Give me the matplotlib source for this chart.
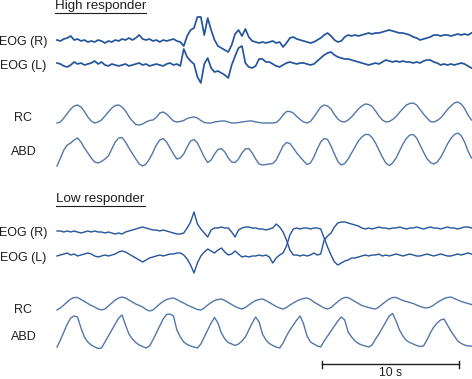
"""
EOG and respiratory traces (RC, ABD) for a high and a low responder.
Values read off the reference trace plot; amplitudes in arbitrary
units (positive = up), one sample every 0.25 s.
"""

import matplotlib.pyplot as plt
import numpy as np
from matplotlib.lines import Line2D

plt.rcParams['font.family'] = ['Liberation Sans', 'DejaVu Sans']

SAMPLE_DT = 0.25
SCALE_BAR_S = 10

# ---- high responder -------------------------------------------------
hi_eog_r = [
    0, -1, 1, 2, 4, 0, 1, -1, 0, -2, -1, -2, 0, -1, -3, -1, -2, 0, -1, 1,
    0, 2, 0, 2, 5, 1, 0, 1, -1, 0, -2, 0, -1, 0, 1, -1, -2,
    -6, 4, 10, 12, 23, 23, 5, 22, 10, 0,
    -6, -8, -10, -12, -5, 6, 10, 4, 11, 3,
    -1, -2, -3, -2, -3, -2, -1, -3, -2, -7,
    -3, 2, 3, 1, 0, -1, -2, -3, -2, 0,
    2, 5, 7, 4, 0, -2, -1, 3, 5, 4,
    5, 4, 5, 6, 7, 6, 7, 7, 8, 9,
    10, 9, 8, 7, 7, 6, 5, 3, 2, 0,
    1, 2, 3, 5, 5, 4, 5, 5, 4, 5,
    6, 5, 6, 5, 7,
]
hi_eog_l = [
    2, 1, -1, -2, 0, 3, 1, 2, 0, 1, 2, 4, 1, 3, 0, -1, 1, 0, -1, 0,
    1, -1, 0, 1, 2, 0, 1, -1, 0, 1, 0, -1, 1, 2, 0, 1, -1,
    16, 8, 4, 1, -12, -18, 1, 7, -3, -7,
    -6, -8, -10, -13, 0, 9, 17, 19, 2, -2,
    -3, -1, 6, 6, 3, 3, 1, -1, -2, 0,
    2, 3, 2, 1, 2, 2, 1, 0, 1, 4,
    7, 10, 12, 13, 10, 8, 7, 6, 6, 5,
    4, 3, 2, 1, 0, 1, 2, 1, 3, 5,
    4, 3, 4, 3, 4, 3, 3, 2, 3, 2,
    4, 5, 5, 3, 2, 0, 1, 0, 1, 0,
    1, 2, 1, -1, -3,
]
hi_rc = [
    -5, -4, 0, 4.5, 9, 12, 13, 11, 6.5, 1,
    -3, -5, -4, -2, 2, 6, 10, 12.5, 13, 11,
    7, 1.5, -3, -6.5, -7, -6, -4, -2.5, -2, 0.5,
    5, 6, 4, 0.5, -3, -4, -3.5, -2.5, -0.5, 0.5,
    1, 0, -2.5, -4.5, -5, -5, -4, -3.5, -3, -3,
    -4, -5, -5, -4.5, -4, -3.5, -3, -3, -4, -4.5,
    -5, -5, -5, -5, -4.5, -1.5, 3, 6.5, 6.5, 5,
    1.5, -1.5, -4, -5, -3.5, 1, 6, 11, 13, 12,
    9, 3.5, -1, -3.5, -4, -2, 1, 5, 9, 12,
    14, 13.5, 11.5, 7, 2, -2, -4, -3.5, -1.5, 1.5,
    5.5, 9.5, 13, 14.5, 15, 13, 8.5, 4, 0, -3.5,
    -4, -2.5, 0, 4, 8.5, 12, 15, 16, 14, 9.5,
    3, -2,
]
hi_abd = [
    -14, -6, 2, 7, 9, 12, 14, 10, 4, -1,
    -6, -10, -11, -9.5, -7, -4, 3, 10, 14, 14.5,
    10, 4, -1.5, -7, -12, -14, -12, -7, -0.5, 7,
    12, 13.5, 10, 4, -2, -7, -6, -2, 5, 11,
    12.5, 9, 2, -5, -10.5, -8, -2, 2.5, 3.5, 0,
    -6, -10, -10.5, -7, -1, 3, 3.5, -1, -7, -12,
    -13, -12.5, -12, -11.5, -8, -1, 6, 9.5, 8.5, 4,
    -1, -5, -9, -12.5, -11, -5, 3, 10, 13.5, 12.5,
    6, -2, -9.5, -13, -11.5, -7, -1, 5, 11, 15,
    17.5, 17.5, 14.5, 9, 2, -5, -11, -13.5, -11, -6,
    1, 8, 13.5, 17, 17.5, 14, 7, 0, -6.5, -10.5,
    -12, -10, -5.5, 1, 8, 13.5, 17.5, 19, 16.5, 10,
    1, -6,
]

# ---- low responder --------------------------------------------------
lo_eog_r = [
    1, 1, 0, 1, 0, 1, 0, -1, 0, 1, 0, 1, 0, 0, -1, 0, -1, -2, -1, -2,
    0, 1, 2, 3, 4, 5, 4, 3, 2, 2, 1, 2, 1, 0, -1, -2, -2,
    -1, 4, 10, 20, 8, 3, -1, -5, 2, 4,
    4, 5, 4, 4, 0, -5, 2, 4, 5, 5,
    4, 4, 3, 3, 2, 3, 4, 8, 5, 0,
    -8, -18, -23, -23, -24, -23, -24, -23, -21, -23,
    -22, -8, -4, -1, 5, 9, 10, 10, 9, 8,
    7, 6, 4, 3,
    4, 3, 4, 5, 4, 4, 3, 4, 4, 5, 4, 3, 4, 4, 5, 4, 3, 4, 5, 4,
    4, 3, 4, 5, 4, 4, 3, 4, 5, 5, 4,
]
lo_eog_l = [
    1, 2, 3, 4, 2, 3, 1, 2, 3, 4, 3, 1, 0, 1, 2, 1, 2, 3, 5, 6,
    5, 3, 1, -1, -3, -5, -3, -1, 0, 1, 2, 1, 2, 3, 3, 4, 4,
    2, -2, -8, -16, -6, 1, 5, 8, 6, 4,
    7, 9, 5, 2, 3, 6, 3, 0, 1, 0,
    1, 1, 2, 1, 2, 0, -6, -1, 2, 4,
    11, 22, 28, 29, 28, 29, 29, 28, 29, 29,
    28, 19, 10, 2, -5, -8, -6, -4, -3, -1,
    -1, 0, 1, 2,
    1, 2, 2, 3, 1, 2, 1, 2, 3, 2, 1, 2, 3, 2, 1, 1, 2, 3, 2, 1,
    2, 3, 2, 1, 1, 2, 3, 2, 3, 4, 3,
]
lo_rc = [
    -3, -1, 2, 5, 8, 9.5, 9.5, 7.5, 5.5, 3.5,
    1.5, 0, -2, -3, -2, 1, 4, 7, 9, 10,
    9, 7, 5, 3, 1.5, 0, -2.5, -4, -3, 0,
    3, 5.5, 7.5, 8.5, 9, 7.5, 5.5, 4, 2, 0.5,
    -1, -2.5, -3, -1, 2, 4.5, 6.5, 7.5, 8, 6.5,
    4.5, 2.5, 0.5, -1, -2, -0.5, 2, 4.5, 6.5, 7.5,
    8, 6.5, 4.5, 2.5, 0.5, -1, -2, -0.5, 2, 4,
    6, 7.5, 8.5, 9, 7.5, 5, 3, 1, -1, -2,
    -0.5, 2.5, 5.5, 8, 9.5, 9.5, 7.5, 5.5, 3.5, 1.5,
    0.5, -0.5, -1.5, -2, 0, 3, 5.5, 8, 9.5, 9.5,
    8, 6.5, 5.5, 4.5, 3.5, 2, 0.5, -0.5, -1, 0,
    2, 4.5, 6.5, 8.5, 9.5, 10, 8.5, 7, 5.5, 4.5,
    3.5, 2.5,
]
lo_abd = [
    -10, -3, 5, 13, 19, 21, 20, 9, 0, -5,
    -8, -10, -11.5, -11, -5, 1, 7, 13, 19, 22,
    12, 3, -2, -5.5, -8, -9.5, -11, -9, -3, 4,
    11, 18, 22.5, 23, 21, 7, 0, -5, -7.5, -9,
    -10, -11, -7, 0, 7, 14, 19.5, 14, 4, -2,
    -5.5, -7, -8.5, -7, -4, 0, 7, 14, 20, 15,
    3, -3, -6.5, -8.5, -10, -11, -6, 1, 7, 12,
    17, 21, 13, 1, -5, -7, -9, -10, -4, 1,
    6, 11, 16, 20, 17, 5, 0, -4, -6.5, -8,
    -9, -10, -8, -2, 3, 9, 15, 21, 23.5, 16,
    7, 1, -3.5, -5.5, -7, -8.5, -9.5, -9, -3, 4,
    10, 14, 17, 18, 12, 6, 1, -4, -6.5, -8,
    -9, -9,
]

EOG_COLOR = '#24559c'
RESP_COLOR = '#5277ab'
TEXT_COLOR = '#1e1e1e'

# channel label, series, vertical offset, label y, colour, line width
CHANNELS = [
    ('EOG (R)', hi_eog_r, 40, 42, EOG_COLOR, 1.25),
    ('EOG (L)', hi_eog_l, 65, 66, EOG_COLOR, 1.25),
    ('RC', hi_rc, 118, 118, RESP_COLOR, 1.0),
    ('ABD', hi_abd, 152, 152, RESP_COLOR, 1.0),
    ('EOG (R)', lo_eog_r, 232, 233, EOG_COLOR, 1.0),
    ('EOG (L)', lo_eog_l, 257, 258, EOG_COLOR, 1.0),
    ('RC', lo_rc, 307, 310, RESP_COLOR, 1.0),
    ('ABD', lo_abd, 337, 337, RESP_COLOR, 1.0),
]


def main() -> None:
    fig = plt.figure(figsize=(4.72, 3.79), dpi=100)
    ax = fig.add_axes([0, 0, 1, 1])
    px_per_s = 13.7
    ax.set_xlim(-57 / px_per_s, (472 - 57) / px_per_s)
    ax.set_ylim(379, 0)
    ax.axis('off')

    for label, vals, off, ly, color, lw in CHANNELS:
        v = np.asarray(vals, dtype=float)
        t = np.arange(len(v)) * SAMPLE_DT
        ax.plot(t, off - v, color=color, linewidth=lw,
                solid_joinstyle='round')
        ax.text(-2.45, ly, label, ha='center', va='center',
                fontsize=9, color=TEXT_COLOR)

    titles = [
        ax.text(-0.15, 6, 'High responder', ha='left', va='center',
                fontsize=9.6, color=TEXT_COLOR),
        ax.text(-0.05, 199, 'Low responder', ha='left', va='center',
                fontsize=9.6, color=TEXT_COLOR),
    ]

    # underline the two titles using their rendered extents
    fig.canvas.draw()
    renderer = fig.canvas.get_renderer()
    inv = fig.transFigure.inverted()
    for txt in titles:
        bb = txt.get_window_extent(renderer)
        (x0, y0), (x1, _) = inv.transform([[bb.x0, bb.y0], [bb.x1, bb.y1]])
        fig.add_artist(Line2D([x0, x1], [y0 - 0.003, y0 - 0.003],
                              transform=fig.transFigure,
                              color=TEXT_COLOR, linewidth=0.8))

    # 10 s scale bar
    bar_start = 19.35
    bar_end = bar_start + SCALE_BAR_S
    ax.plot([bar_start, bar_end], [364, 364], color=TEXT_COLOR,
            linewidth=1.0)
    for xb in (bar_start, bar_end):
        ax.plot([xb, xb], [360.5, 367.5], color=TEXT_COLOR, linewidth=1.0)
    ax.text((bar_start + bar_end) / 2, 373.5, f'{SCALE_BAR_S} s',
            ha='center', va='center', fontsize=8.8, color=TEXT_COLOR)

    fig.savefig('out.png', dpi=100)
    plt.close(fig)


if __name__ == '__main__':
    main()
